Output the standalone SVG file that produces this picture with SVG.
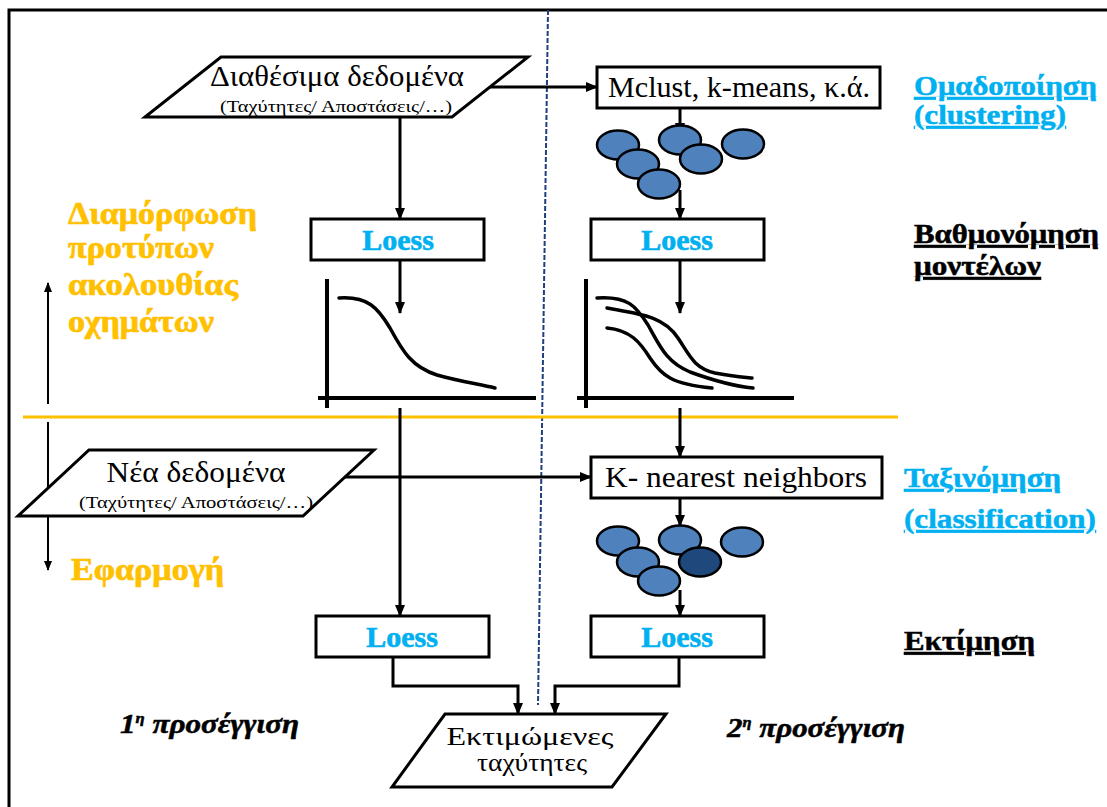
<svg xmlns="http://www.w3.org/2000/svg" width="1107" height="807" viewBox="0 0 1107 807" font-family="Liberation Serif, Times New Roman, serif">
<defs>
<marker id="ah" markerUnits="userSpaceOnUse" markerWidth="12" markerHeight="12" viewBox="0 0 12 12" refX="11" refY="6" orient="auto">
<path d="M0,1 L12,6 L0,11 Z" fill="#000"/>
</marker>
<marker id="ahs" markerUnits="userSpaceOnUse" markerWidth="10" markerHeight="10" viewBox="0 0 10 10" refX="9" refY="5" orient="auto">
<path d="M0,1 L10,5 L0,9 Z" fill="#000"/>
</marker>
<style>
.box{fill:#fff;stroke:#000;stroke-width:3}
.conn{fill:none;stroke:#000;stroke-width:3}
.thin{fill:none;stroke:#000;stroke-width:2}
.axis{fill:none;stroke:#000;stroke-width:4}
.curve{fill:none;stroke:#000;stroke-width:3.5;stroke-linecap:round}
.blob{fill:#4F81BD;stroke:#000;stroke-width:2.5}
.blobdark{fill:#1F497D;stroke:#000;stroke-width:2.5}
.t{fill:#000}
.big{font-size:30px}
.small{font-size:17px}
.loess{font-size:30px;font-weight:bold;fill:#00B0F0;stroke:#00B0F0;stroke-width:0.6;text-anchor:middle}
.yel{font-size:32px;font-weight:bold;fill:#FFC000;stroke:#FFC000;stroke-width:0.7}
.side{font-size:28px;font-weight:bold;text-decoration:underline;stroke-width:0.5}
.blue{fill:#00B0F0;stroke:#00B0F0}
.blk{fill:#000;stroke:#000}
.appr{font-size:28px;font-weight:bold;font-style:italic;fill:#000;stroke:#000;stroke-width:0.5}
</style>
</defs>
<rect width="1107" height="807" fill="#fff"/>

<g id="frame">
<path d="M9,807 L9,10 L1107,10" fill="none" stroke="#000" stroke-width="3"/>
<line x1="548" y1="10" x2="538" y2="705" stroke="#1F3F7F" stroke-width="2" stroke-dasharray="5 2"/>
<line x1="23" y1="417" x2="898" y2="417" stroke="#FFC000" stroke-width="3"/>
<line x1="48" y1="404" x2="48" y2="283" class="thin" marker-end="url(#ahs)"/>
<line x1="48" y1="422" x2="48" y2="570" class="thin" marker-end="url(#ahs)"/>
</g>

<g id="connectors">
<line x1="490" y1="87" x2="597" y2="87" class="conn" stroke-width="2.5" marker-end="url(#ah)"/>
<line x1="400" y1="117" x2="400" y2="219" class="conn" marker-end="url(#ah)"/>
<line x1="400" y1="260" x2="400" y2="313" class="conn" marker-end="url(#ah)"/>
<line x1="400" y1="408" x2="400" y2="616" class="conn" marker-end="url(#ah)"/>
<line x1="680" y1="108" x2="680" y2="134" class="conn" marker-end="url(#ah)"/>
<line x1="680" y1="190" x2="680" y2="219" class="conn" marker-end="url(#ah)"/>
<line x1="680" y1="260" x2="680" y2="313" class="conn" marker-end="url(#ah)"/>
<line x1="680" y1="408" x2="680" y2="457" class="conn" marker-end="url(#ah)"/>
<line x1="345" y1="477" x2="591" y2="477" class="conn" stroke-width="2.5" marker-end="url(#ah)"/>
<line x1="680" y1="498" x2="680" y2="526" class="conn" marker-end="url(#ah)"/>
<line x1="680" y1="590" x2="680" y2="616" class="conn" marker-end="url(#ah)"/>
<path d="M393,657 L393,686 L518,686 L518,714" class="conn" marker-end="url(#ah)"/>
<path d="M679,657 L679,686 L555,686 L555,714" class="conn" marker-end="url(#ah)"/>
</g>

<g id="available-data">
<polygon points="221,57 528,57 452,117 145,117" class="box"/>
<text class="t big" x="337" y="86" text-anchor="middle" textLength="254" lengthAdjust="spacingAndGlyphs">Διαθέσιμα δεδομένα</text>
<text class="t small" x="336" y="112" text-anchor="middle" textLength="232" lengthAdjust="spacingAndGlyphs">(Ταχύτητες/ Αποστάσεις/…)</text>
</g>

<g id="mclust">
<rect x="597" y="67" width="283" height="41" class="box"/>
<text class="t big" x="739" y="97" text-anchor="middle" textLength="262" lengthAdjust="spacingAndGlyphs">Mclust, k-means, κ.ά.</text>
</g>

<g id="clusters1">
<ellipse cx="618" cy="145" rx="21" ry="14.5" class="blob"/>
<ellipse cx="680" cy="140" rx="21" ry="14.5" class="blob"/>
<ellipse cx="743" cy="144" rx="21" ry="14.5" class="blob"/>
<ellipse cx="638" cy="164" rx="21" ry="14.5" class="blob"/>
<ellipse cx="701" cy="159" rx="21" ry="14.5" class="blob"/>
<ellipse cx="659" cy="184" rx="21" ry="14.5" class="blob"/>
</g>

<g id="loess-1">
<rect x="311" y="219" width="173" height="41" class="box"/>
<text class="loess" x="398" y="250">Loess</text>
</g>
<g id="loess-2">
<rect x="591" y="219" width="173" height="41" class="box"/>
<text class="loess" x="677" y="250">Loess</text>
</g>

<g id="chart-1">
<line x1="327" y1="279" x2="327" y2="408" class="axis"/>
<line x1="318" y1="398" x2="536" y2="398" class="axis"/>
<path d="M339,298 C368,296 378,308 390,328 C403,352 412,367 437,375 C458,381 478,384 495,388" class="curve"/>
</g>

<g id="chart-2">
<line x1="586" y1="279" x2="586" y2="408" class="axis"/>
<line x1="577" y1="398" x2="794" y2="398" class="axis"/>
<path d="M597,298 C628,296 636,306 648,325 C660,346 666,362 690,372 C712,380 732,386 753,388" class="curve"/>
<path d="M607,308 C640,314 664,316 678,338 C690,356 694,368 715,373 C730,376 742,377 752,378" class="curve"/>
<path d="M607,328 C630,330 640,342 650,358 C662,376 672,384 712,388" class="curve"/>
</g>

<g id="new-data">
<polygon points="89,450 374,450 303,516 18,516" class="box"/>
<text class="t big" x="196" y="482" text-anchor="middle" textLength="179" lengthAdjust="spacingAndGlyphs">Νέα δεδομένα</text>
<text class="t small" x="196" y="508" text-anchor="middle" textLength="234" lengthAdjust="spacingAndGlyphs">(Ταχύτητες/ Αποστάσεις/…)</text>
</g>

<g id="knn">
<rect x="591" y="457" width="291" height="41" class="box"/>
<text class="t big" x="736" y="487" text-anchor="middle" textLength="262" lengthAdjust="spacingAndGlyphs">K- nearest neighbors</text>
</g>

<g id="clusters2">
<ellipse cx="618" cy="541" rx="21" ry="14.5" class="blob"/>
<ellipse cx="680" cy="540" rx="21" ry="14.5" class="blob"/>
<ellipse cx="742" cy="542" rx="21" ry="14.5" class="blob"/>
<ellipse cx="638" cy="562" rx="21" ry="14.5" class="blob"/>
<ellipse cx="700" cy="562" rx="21" ry="14.5" class="blobdark"/>
<ellipse cx="659" cy="581" rx="21" ry="14.5" class="blob"/>
</g>

<g id="loess-3">
<rect x="316" y="616" width="173" height="41" class="box"/>
<text class="loess" x="402" y="647">Loess</text>
</g>
<g id="loess-4">
<rect x="591" y="616" width="173" height="41" class="box"/>
<text class="loess" x="677" y="647">Loess</text>
</g>

<g id="estimated-speeds">
<polygon points="445,714 666,714 612,787 392,787" class="box"/>
<text class="t" font-size="25" x="530" y="745" text-anchor="middle" textLength="167" lengthAdjust="spacingAndGlyphs">Εκτιμώμενες</text>
<text class="t" font-size="25" x="532" y="771" text-anchor="middle" textLength="110" lengthAdjust="spacingAndGlyphs">ταχύτητες</text>
</g>

<g id="labels">
<text class="yel" x="68" y="224" textLength="189" lengthAdjust="spacingAndGlyphs">Διαμόρφωση</text>
<text class="yel" x="68" y="258" textLength="146" lengthAdjust="spacingAndGlyphs">προτύπων</text>
<text class="yel" x="68" y="295" textLength="170" lengthAdjust="spacingAndGlyphs">ακολουθίας</text>
<text class="yel" x="68" y="332" textLength="146" lengthAdjust="spacingAndGlyphs">οχημάτων</text>
<text class="yel" x="71" y="580" textLength="153" lengthAdjust="spacingAndGlyphs">Εφαρμογή</text>
<text class="side blue" x="914" y="95" textLength="183" lengthAdjust="spacingAndGlyphs">Ομαδοποίηση</text>
<text class="side blue" x="914" y="124" textLength="152" lengthAdjust="spacingAndGlyphs">(clustering)</text>
<text class="side blk" x="914" y="243" textLength="185" lengthAdjust="spacingAndGlyphs">Βαθμονόμηση</text>
<text class="side blk" x="914" y="275" textLength="127" lengthAdjust="spacingAndGlyphs">μοντέλων</text>
<text class="side blue" x="904" y="487" textLength="157" lengthAdjust="spacingAndGlyphs">Ταξινόμηση</text>
<text class="side blue" x="904" y="528" textLength="192" lengthAdjust="spacingAndGlyphs">(classification)</text>
<text class="side blk" x="904" y="650" textLength="131" lengthAdjust="spacingAndGlyphs">Εκτίμηση</text>
<text class="appr" x="120" y="733" textLength="179" lengthAdjust="spacingAndGlyphs">1<tspan font-size="15" dy="-10">η</tspan><tspan dy="10"> προσέγγιση</tspan></text>
<text class="appr" x="727" y="737" textLength="178" lengthAdjust="spacingAndGlyphs">2<tspan font-size="15" dy="-10">η</tspan><tspan dy="10"> προσέγγιση</tspan></text>
</g>
</svg>
